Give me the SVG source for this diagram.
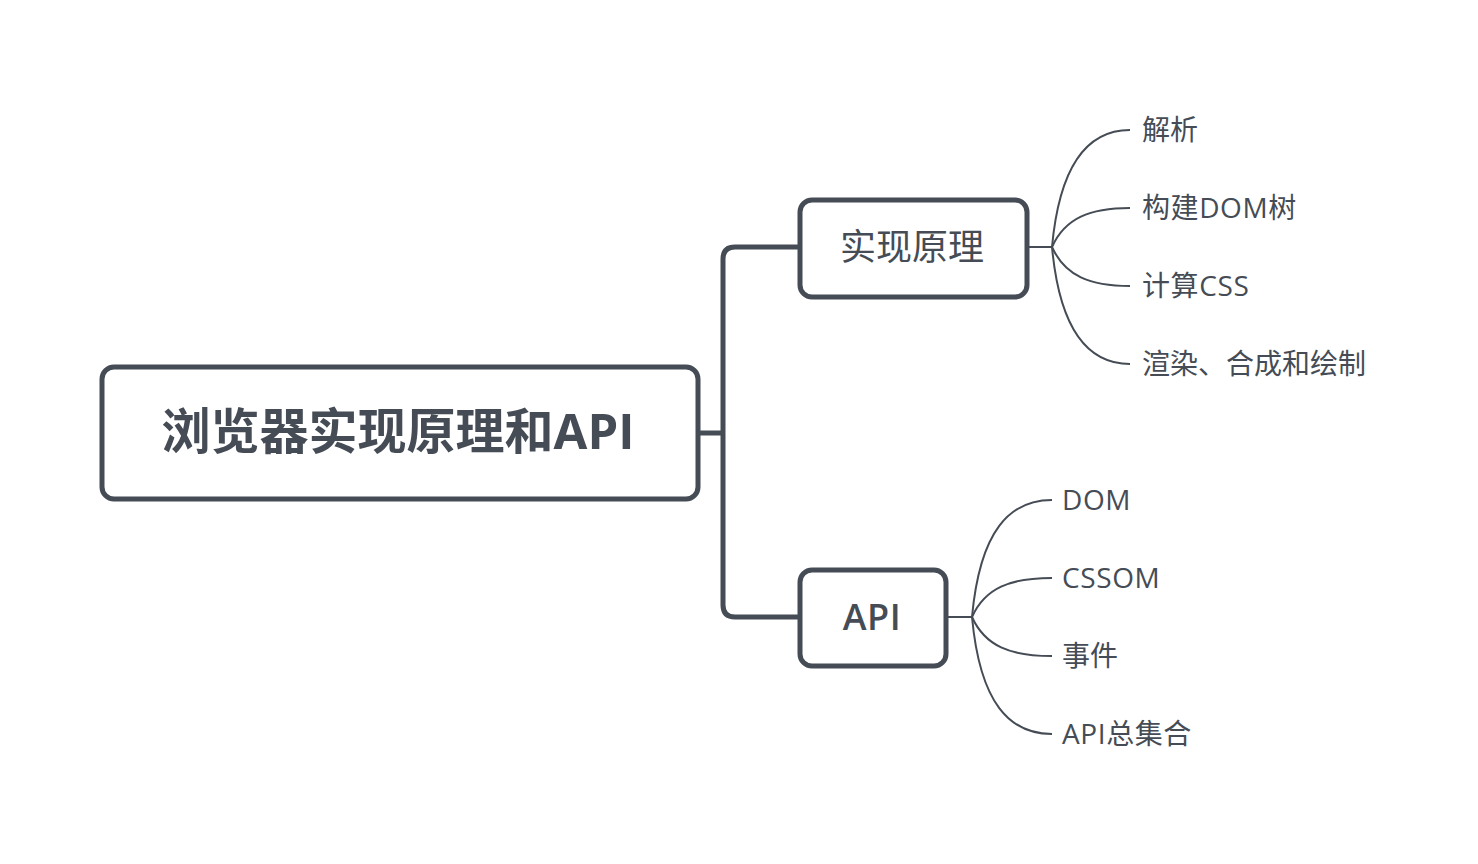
<svg xmlns="http://www.w3.org/2000/svg" width="1478" height="864" viewBox="0 0 1478 864">
<style>
.box{fill:#fff;stroke:#454c55;stroke-width:5}
.thick{fill:none;stroke:#454c55;stroke-width:5;stroke-linejoin:round}
.thin{fill:none;stroke:#454c55;stroke-width:2}
text{fill:#454c55;font-family:"Open Sans","Noto Sans CJK SC",sans-serif}
.root{font-size:49px;font-weight:bold;text-anchor:middle}
.mid{font-size:36px;text-anchor:middle}
.leaf{font-size:28px}
.lat{letter-spacing:0.6px}
</style>
<rect width="1478" height="864" fill="#fff"/>
<g id="connectors">
<path class="thick" d="M698,433 H723"/>
<path class="thick" d="M800,247 H735 Q723,247 723,259 V605 Q723,617 735,617 H800"/>
<path class="thin" d="M1027,247 H1052"/>
<path class="thin" d="M1052,247 C1060,160 1090,130 1130,130"/>
<path class="thin" d="M1052,247 C1065,218 1090,208 1130,208"/>
<path class="thin" d="M1052,247 C1065,276 1090,286 1130,286"/>
<path class="thin" d="M1052,247 C1060,334 1090,364 1130,364"/>
<path class="thin" d="M946,617 H972"/>
<path class="thin" d="M972,617 C980,530 1010,500 1052,500"/>
<path class="thin" d="M972,617 C985,588 1010,578 1052,578"/>
<path class="thin" d="M972,617 C985,646 1010,656 1052,656"/>
<path class="thin" d="M972,617 C980,704 1010,734 1052,734"/>
</g>
<g id="root">
<rect class="box" x="102" y="367" width="596" height="132" rx="12"/>
<text class="root" x="398" y="449">浏览器实现原理和API</text>
</g>
<g id="n-impl">
<rect class="box" x="800" y="200" width="227" height="97" rx="12"/>
<text class="mid" x="912" y="260">实现原理</text>
</g>
<g id="n-api">
<rect class="box" x="800" y="570" width="146" height="96" rx="12"/>
<text class="mid lat" x="872" y="630" font-weight="600">API</text>
</g>
<g id="l1"><text class="leaf" x="1142" y="140">解析</text></g>
<g id="l2"><text class="leaf lat" x="1142" y="218">构建DOM树</text></g>
<g id="l3"><text class="leaf lat" x="1142" y="296">计算CSS</text></g>
<g id="l4"><text class="leaf" x="1142" y="374">渲染、合成和绘制</text></g>
<g id="l5"><text class="leaf lat" x="1062" y="510">DOM</text></g>
<g id="l6"><text class="leaf lat" x="1062" y="588">CSSOM</text></g>
<g id="l7"><text class="leaf" x="1062" y="666">事件</text></g>
<g id="l8"><text class="leaf lat" x="1062" y="744">API总集合</text></g>
</svg>
